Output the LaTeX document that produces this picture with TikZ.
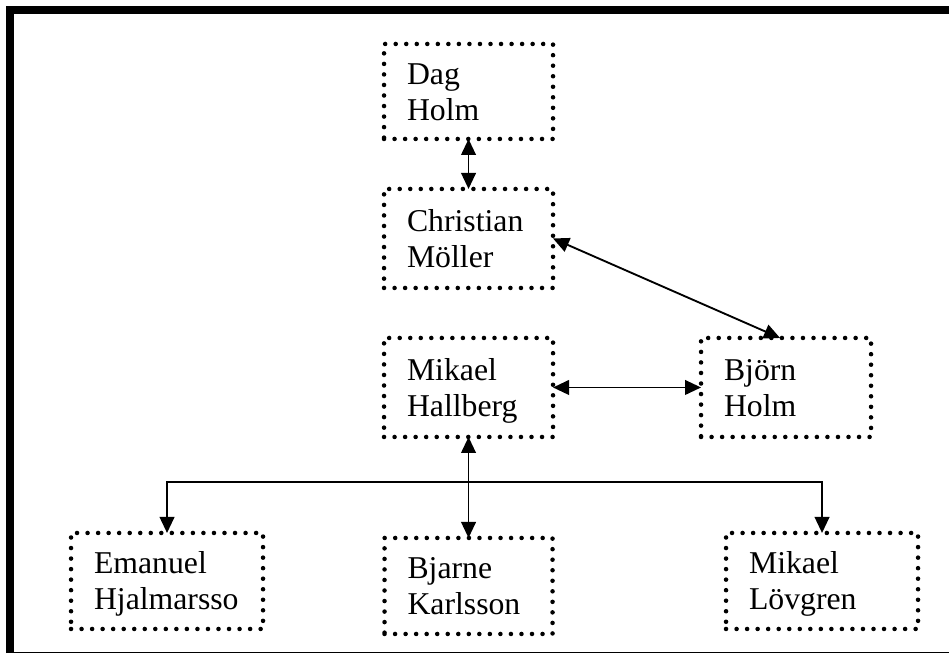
\documentclass[tikz,border=0pt]{standalone}
\usepackage{fontspec}
\setmainfont{Liberation Serif}
\usetikzlibrary{positioning,arrows.meta}

\begin{document}
\begin{tikzpicture}[node distance=37.5pt,
  >={Triangle[length=12pt,width=11pt]},
  person/.style={draw, line width=3.4pt, dash pattern=on 0pt off 7.9pt, line cap=round,
    minimum height=74.25pt, inner xsep=17.25pt, inner ysep=0pt, outer sep=0pt, text width=#1, align=left,
    text height=15.8pt, text depth=27pt, font=\fontsize{23.8pt}{27pt}\selectfont},
  link/.style={line width=1.4pt}]

\useasboundingbox (0,0) rectangle (711.75pt,-489.75pt);
\draw[line width=6pt] (7.5pt,-489.75pt) -- (7.5pt,-7.5pt) -- (711.75pt,-7.5pt);
\draw[line width=0.75pt] (7.5pt,-489pt) -- (711.75pt,-489pt);

\node(DAG)       [person=92.25pt, minimum height=71.25pt] at (351.4pt,-68.6pt) {Dag\\Holm};
\node(CHRISTIAN) [person=92.25pt, below=of DAG]               {Christian\\Möller};
\node(HALLBERG)  [person=92.25pt, below=of CHRISTIAN]         {Mikael\\Hallberg};
\node(BJORN)     [person=93pt, right=111pt of HALLBERG]       {Björn\\Holm};
\node(BJARNE)    [person=91.5pt, minimum height=72pt, below=75.75pt of HALLBERG] {Bjarne\\Karlsson};
\node(EMANUEL)   [person=109.5pt, minimum height=72pt, below left=72pt and 90.75pt of HALLBERG] {Emanuel\\Hjalmarsso};
\node(LOVGREN)   [person=109.5pt, minimum height=72pt, below right=72pt and 129.75pt of HALLBERG] {Mikael\\Lövgren};
\coordinate(BUS) at ([yshift=-33.75pt]HALLBERG.south);

\draw[link,<->] (DAG)            -- (CHRISTIAN);
\draw[link,<->] (CHRISTIAN.east) -- ([xshift=-4.5pt]BJORN.north);
\draw[link,<->] (HALLBERG)       -- (BJORN);
\draw[link,<->] (HALLBERG)       -- (BJARNE);
\draw[link,->]  (BUS)            -| (EMANUEL);
\draw[link,->]  (BUS)            -| (LOVGREN);
\end{tikzpicture}
\end{document}
